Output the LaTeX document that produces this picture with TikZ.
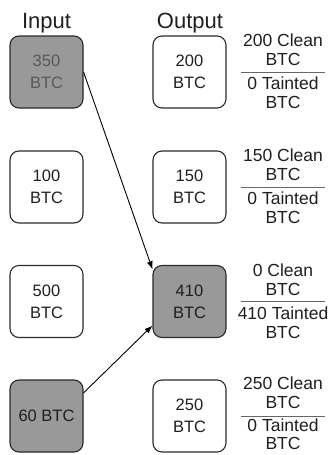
\documentclass[tikz,border=0pt]{standalone}
\usepackage{fontspec}
\setmainfont{Liberation Sans}
\usetikzlibrary{arrows.meta}
\definecolor{hotfill}{HTML}{999999}
\definecolor{edge}{HTML}{2A2A2A}
\begin{document}
\begin{tikzpicture}[x=1pt,y=-1pt,
  box/.style={draw=edge, line width=1.1pt, rounded corners=9pt, minimum width=73pt, minimum height=72pt, inner sep=0pt, align=center, font=\fontsize{16.5}{22}\selectfont, text=black!88},
  hot/.style={box, fill=hotfill},
  title/.style={font=\fontsize{22}{26}\selectfont, inner sep=0pt, text=black!88},
  lab/.style={font=\fontsize{17.5}{19}\selectfont, inner sep=0pt, align=center, text=black!88},
  labtight/.style={lab, font=\fontsize{17.5}{18}\selectfont},
  split/.style={draw=black!60, line width=0.9pt},
  arr/.style={draw=black, line width=0.9pt, -{Latex[length=8pt,width=6pt]}}]
\useasboundingbox (0,0) rectangle (329,455);
% titles
\node[title, anchor=base] (tin) at (46.5,28) {Input};
\node[title, anchor=base] (tout) at (190,28) {Output};
% input boxes
\node[hot, text=black!65] (in1) at (46.5,72) {350\\BTC};
\node[box] (in2) at (46.5,187) {100\\BTC};
\node[box] (in3) at (46.5,301.5) {500\\BTC};
\node[hot] (in4) at (46.5,416) {60 BTC};
% output boxes
\node[box] (out1) at (189.5,72) {200\\BTC};
\node[box] (out2) at (189.5,187) {150\\BTC};
\node[hot] (out3) at (189.5,301.5) {410\\BTC};
\node[box] (out4) at (189.5,416) {250\\BTC};
% labels
\coordinate (l1a) at (241,72);  \coordinate (l1b) at (325,72);
\coordinate (l2a) at (241,187); \coordinate (l2b) at (325,187);
\coordinate (l3a) at (241,301.5); \coordinate (l3b) at (325,301.5);
\coordinate (l4a) at (241,416); \coordinate (l4b) at (325,416);
\draw[split] (l1a) -- (l1b);
\draw[split] (l2a) -- (l2b);
\draw[split] (l3a) -- (l3b);
\draw[split] (l4a) -- (l4b);
\node[lab, anchor=south] (t1) at (283,66) {200 Clean\\BTC};
\node[lab, anchor=north] (b1) at (283,77) {0 Tainted\\BTC};
\node[lab, anchor=south] (t2) at (283,181) {150 Clean\\BTC};
\node[lab, anchor=north] (b2) at (283,192) {0 Tainted\\BTC};
\node[lab, anchor=south] (t3) at (283,295.5) {0 Clean\\BTC};
\node[lab, anchor=north] (b3) at (283,306.5) {410 Tainted\\BTC};
\node[lab, anchor=south] (t4) at (283,409) {250 Clean\\BTC};
\node[labtight, anchor=north] (b4) at (283,419) {0 Tainted\\BTC};
% arrows
\draw[arr] (in1.east) -- (out3.139);
\draw[arr] (in4.32) -- (out3.213);
\end{tikzpicture}
\end{document}
